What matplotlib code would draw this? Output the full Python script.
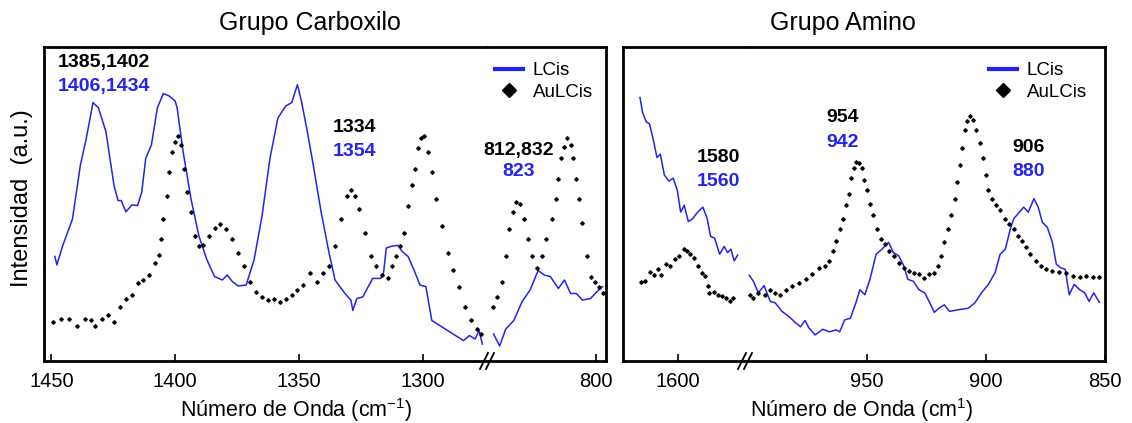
import matplotlib
matplotlib.use("Agg")
import matplotlib.pyplot as plt
import numpy as np
from matplotlib.lines import Line2D

plt.rcParams['font.family'] = ['Liberation Sans', 'DejaVu Sans']
plt.rcParams['mathtext.default'] = 'regular'

BLUE = '#2323f0'

# ---- Grupo Carboxilo: LCis (blue line), AuLCis (black dots) ----
carb_lcis_wn = [1448.6, 1447.8, 1445.5, 1441.5, 1438.3, 1435.9, 1433.2, 1431, 1428, 1424.7, 1423.1,
                1421.8, 1419.9, 1417.5, 1415.2, 1413.5, 1411.9, 1409.6, 1407.2, 1404.8, 1402.4, 1400,
                1399.2, 1396.8, 1393.6, 1390.4, 1387.2, 1384.1, 1380.9, 1379, 1376.9, 1374.5, 1371.3,
                1368.1, 1364.9, 1361.7, 1358.5, 1355.3, 1352.9, 1350.6, 1349, 1346.6, 1344.2, 1341,
                1337.8, 1335.4, 1331.4, 1329, 1328.2, 1326.6, 1324.2, 1320.2, 1317, 1315.8, 1314.7,
                1312.3, 1309.9, 1308.3, 1305.9, 1303.5, 1301.1, 1298.7, 1296.3, 1293.1, 1289.9,
                1286.7, 1283.5, 1281.1, 1278.8, 1277.2, 1275.9]
carb_lcis_int = [33.3, 30.6, 36.6, 45.2, 62.4, 71, 82.3, 80.6, 73.1, 55.9, 51.1,
                 51.1, 47.5, 49.7, 49.5, 53.8, 64.5, 68.8, 80.6, 85.2, 84.4, 82.8,
                 80.6, 66.7, 51.6, 39.8, 32.3, 26.9, 25.8, 27.4, 25.3, 23.9, 24.2,
                 32.3, 46.2, 64.5, 77.4, 81.2, 82.3, 88, 82.8, 73.1, 62.4, 47.3,
                 34.4, 25.8, 21.5, 19.4, 16.1, 19.9, 20.4, 26.3, 26.3, 28, 36,
                 36.6, 36.8, 34.9, 33.3, 29, 24.2, 23.7, 12.9, 11.3, 9.7,
                 8.1, 6.5, 8.1, 7, 9.7, 5.4]
carb_lcis_wn2 = [840.4, 838, 835.6, 832.4, 829.2, 826, 822.8, 820.4, 818, 814.8, 812.4, 810,
                 807.7, 805.3, 802.1, 799.7, 797.3]
carb_lcis_int2 = [8.6, 4.8, 10.2, 12.9, 18.8, 22.6, 28.8, 27.4, 26.9, 23.1, 25.8, 21.5,
                  21.5, 19.4, 19.9, 22, 23.7]

carb_au_wn = [1449.4, 1446.2, 1443, 1439.8, 1436.6, 1434.2, 1432.3, 1429.5, 1427.1, 1424.7, 1422.3,
              1419.9, 1417.5, 1415.2, 1412.8, 1410.4, 1408, 1406.4, 1405.6, 1404.8, 1403.5, 1402.4,
              1401.3, 1400, 1398.9, 1397.6, 1396.5, 1395.3, 1393.6, 1392, 1390.4, 1388.8, 1386.4,
              1384.1, 1381.7, 1379.3, 1376.9, 1374.5, 1372.1, 1369.7, 1367.3, 1364.9, 1362.5,
              1360.1, 1357.7, 1355.3, 1352.9, 1350.6, 1348.2, 1345.5, 1342.6, 1340.2, 1337.8,
              1335.4, 1333, 1330.6, 1329, 1327.4, 1325.8, 1323.4, 1321, 1318.7, 1316.3, 1313.9,
              1312.3, 1310.7, 1309.1, 1307.5, 1305.9, 1304.3, 1303, 1301.9, 1300.8, 1299.5,
              1297.9, 1296.3, 1294.7, 1292.3, 1289.9, 1287.6, 1285.2, 1282.8, 1280.4, 1278, 1276.4]
carb_au_int = [12.4, 13.4, 13.4, 11.3, 13.4, 12.9, 11.3, 13.4, 14.5, 12.4, 17.2,
               19.9, 21, 24.7, 25.8, 27.4, 31.2, 33.9, 38.7, 45.2, 52.7, 60.2,
               66.7, 69.9, 71.8, 68.8, 61.3, 53.8, 47.3, 39.8, 36.6, 36.8, 39.8,
               42.5, 43.5, 41.9, 38.7, 34.4, 30.1, 25.3, 22, 20.4, 19.4,
               19.9, 18.8, 19.9, 21, 22.6, 24.2, 28, 25.3, 28, 30.1,
               36.6, 45.2, 52.7, 54.3, 52.7, 48.4, 40.9, 33.3, 30.1, 27.4, 26.3,
               30.1, 33.3, 36.6, 40.9, 49.5, 55.9, 61.3, 67.7, 71, 71.5,
               66.7, 60.2, 51.6, 43, 34.4, 29, 23.7, 17.2, 12.9, 10.2, 8.6]
carb_au_wn2 = [840.7, 839.1, 837.2, 835.6, 834.3, 832.7, 831.6, 830, 828.4, 826.8, 825.2, 823.1,
               821.2, 819.6, 817.5, 815.9, 814.8, 813.6, 812.4, 811.3, 810, 808.9, 807.7, 806.5,
               805.3, 803.7, 802.1, 800.5, 798.9, 797.3]
carb_au_int2 = [17.2, 20.4, 25.3, 33.3, 41.9, 47.3, 50.5, 50, 45.2, 38.7, 33.3, 29.6,
                33.3, 38.7, 45.2, 51.6, 58.1, 64.5, 68.3, 71, 68.8, 64.5, 58.1, 51.6,
                44.1, 33.3, 26.9, 25.3, 23.7, 21.5]

# ---- Grupo Amino ----
amino_lcis_wn = [1615.9, 1614.8, 1613.3, 1611.9, 1610.2, 1608.8, 1607.4, 1605.7, 1603.8, 1602, 1600.3,
                 1598.9, 1597.4, 1595.7, 1593.9, 1591.8, 1589.6, 1587.8, 1586.4, 1584.7, 1582.6,
                 1580.7, 1579.3, 1577.9, 1576.5, 1575.1]
amino_lcis_int = [83.9, 79.1, 76.2, 75.5, 70, 64.8, 65.9, 59.2, 57.3, 58.2, 54.4,
                  47.4, 49.6, 44.4, 45.3, 47.4, 49, 45.3, 39.7, 39.1, 34,
                  36.5, 34.5, 35.6, 31.9, 33.7]
amino_au_wn = [1615.6, 1613.8, 1611.9, 1610.2, 1608.5, 1607.1, 1605.2, 1603.5, 1601.3, 1599.6, 1597.7,
               1596.3, 1594.9, 1593.2, 1591.5, 1590.1, 1588.7, 1587.6, 1586.9, 1585, 1583.3,
               1581.6, 1579.8, 1578.4, 1577]
amino_au_int = [25.1, 25.4, 28.3, 27.5, 29.4, 27.3, 30.8, 30.3, 32.4, 33.5, 35.8,
                35.1, 34, 32.9, 30.3, 28.1, 27, 23.8, 21.7, 21.9, 21.1,
                20.8, 20.1, 19, 20.1]

amino_lcis_wn2 = [999.2, 997.5, 995.4, 993, 990.4, 988.3, 985.5, 982.6, 979.8, 977.7, 975.8, 974.1,
                  971.6, 968.4, 965.6, 962.8, 961.3, 959.2, 956.8, 954.5, 952.8, 950.7, 948.6,
                  946, 943.6, 940.8, 938.7, 936.5, 934.4, 932.7, 930.4, 928, 925.6, 923.8, 921.6,
                  919.5, 917.4, 915.2, 911.7, 907.4, 904.6, 901.8, 898.9, 896.1, 894, 891.8,
                  889.7, 888.3, 885.9, 884.1, 882.2, 879.8, 878, 876.3, 874.2, 872.1, 870.4,
                  868.6, 866.7, 865, 862.9, 860.6, 858.5, 856.7, 854.7, 852.4]
amino_lcis_int2 = [27.3, 25.4, 21.7, 24, 19, 18.5, 15.8, 14.2, 12.2, 10.9, 12.9, 10.4,
                   8.3, 10.1, 9.3, 9.9, 9.3, 13.1, 13.6, 18.5, 22.7, 21.1, 26,
                   34, 35.6, 37.8, 34.5, 33.5, 30.3, 26, 25.4, 22.7, 21.7, 19, 15.5,
                   16.9, 17.9, 15.8, 16.3, 16.8, 18.5, 21.7, 24.4, 28.1, 34, 35.6,
                   42.1, 45.3, 47.4, 49, 47.4, 51.7, 49, 44.2, 42.6, 37.8, 30.8,
                   29.7, 29.2, 21.1, 24.4, 22.7, 21.7, 19, 21.7, 18.7]
amino_au_wn2 = [998.9, 997.5, 995.4, 992.6, 990.4, 988.3, 986.2, 984, 981.2, 978.4, 975.5, 972.7,
                969.9, 967.3, 965.6, 964.2, 962.8, 961.3, 959.9, 958.8, 957.4, 956.4, 955.4,
                954.3, 953.1, 952.1, 951.1, 950, 948.6, 947.2, 945.7, 944, 942.2, 940.4, 938.7,
                936.5, 934.4, 932.3, 930.1, 928, 925.9, 923.8, 921.6, 920.2, 918.8, 917.4, 916,
                914.5, 913.1, 912, 911, 910, 908.9, 907.7, 906.5, 905.3, 903.9, 902.5, 901.3,
                900.1, 898.9, 897.5, 895.8, 894, 891.8, 890.1, 888.3, 886.4, 884.8, 883.1,
                881.3, 879.1, 877, 874.9, 872.1, 869.2, 866.4, 863.5, 860.6, 857.8, 855, 852.4]
amino_au_int2 = [21.1, 20.1, 21.7, 21.1, 22.7, 21.7, 21.1, 22.7, 23.8, 24.9, 26, 27.6,
                 29.7, 30.3, 31.9, 35.1, 38.3, 42.1, 45.3, 49.6, 53.3, 58.2, 61.4,
                 63.5, 63, 61.4, 57.6, 54.4, 50.1, 46.4, 42.1, 38.8, 37.2, 35.1, 33.5,
                 31.3, 29.7, 28.6, 28.1, 27.6, 26.5, 27.6, 28.1, 30.3, 33.5, 37.8, 42.1,
                 46.4, 51.7, 57.1, 62.4, 67.8, 73.7, 76.4, 78, 76.9, 73.7, 69.4, 64.6,
                 59.2, 54.4, 51.7, 49.6, 48, 45.3, 43.6, 42.1, 39.9, 38.3, 36.2,
                 34, 31.9, 30.3, 29.4, 28.6, 28.3, 27.9, 27, 26.8, 27, 26.8, 26.8]

W, H = 1132, 423
fig = plt.figure(figsize=(W / 100, H / 100), dpi=100)


def px_axes(x0, x1, y0=47, y1=361):
    return fig.add_axes([x0 / W, (H - y1) / H, (x1 - x0) / W, (y1 - y0) / H])


def style(ax, xlim, ticks, left=True, right=True):
    ax.set_xlim(*xlim)
    ax.set_ylim(0, 100)
    ax.set_xticks(ticks)
    ax.set_yticks([])
    ax.tick_params(axis='x', direction='in', length=5, width=1.2, labelsize=14.5, pad=8)
    for s in ax.spines.values():
        s.set_linewidth(2)
    ax.spines['left'].set_visible(left)
    ax.spines['right'].set_visible(right)


def series(ax, wn, lc, wa, au):
    ax.plot(wn, lc, color=BLUE, lw=1.1)
    ax.plot(wa, au, ls='none', marker='D', ms=1.8, color='black')


# Grupo Carboxilo
c1 = px_axes(44, 487)
c2 = px_axes(487, 606)
series(c1, carb_lcis_wn, carb_lcis_int, carb_au_wn, carb_au_int)
series(c2, carb_lcis_wn2, carb_lcis_int2, carb_au_wn2, carb_au_int2)
style(c1, (1453, 1274), [1450, 1400, 1350, 1300], right=False)
style(c2, (843, 796), [800], left=False)

# Grupo Amino
a1 = px_axes(623, 745)
a2 = px_axes(745, 1105)
series(a1, amino_lcis_wn, amino_lcis_int, amino_au_wn, amino_au_int)
series(a2, amino_lcis_wn2, amino_lcis_int2, amino_au_wn2, amino_au_int2)
style(a1, (1623, 1572), [1600], right=False)
style(a2, (1001, 850), [950, 900, 850], left=False)

# axis break marks
for xb in (487, 745):
    for dx in (-3, 3):
        fig.add_artist(Line2D([(xb + dx - 4) / W, (xb + dx + 4) / W],
                              [(H - 369) / H, (H - 353) / H],
                              color='black', lw=1.3, transform=fig.transFigure))

# titles and labels
fig.text(310 / W, 1 - 23 / H, 'Grupo Carboxilo', ha='center', va='center', fontsize=18)
fig.text(843 / W, 1 - 23 / H, 'Grupo Amino', ha='center', va='center', fontsize=18)
fig.text(296 / W, 1 - 410 / H, 'Número de Onda (cm$^{-1}$)', ha='center', va='center', fontsize=15.5)
fig.text(862 / W, 1 - 410 / H, 'Número de Onda (cm$^{1}$)', ha='center', va='center', fontsize=15.5)
fig.text(22 / W, 1 - 198 / H, 'Intensidad  (a.u.)', rotation=90, ha='center', va='center', fontsize=17)

# peak annotations
notes = [
    (104, 62, '1385,1402', 'black'), (104, 87, '1406,1434', BLUE),
    (354, 127, '1334', 'black'), (354, 151, '1354', BLUE),
    (519, 150, '812,832', 'black'), (519, 172, '823', BLUE),
    (718, 158, '1580', 'black'), (718, 182, '1560', BLUE),
    (843, 117, '954', 'black'), (843, 142, '942', BLUE),
    (1029, 147, '906', 'black'), (1029, 172, '880', BLUE),
]
for x, y, t, c in notes:
    fig.text(x / W, 1 - y / H, t, ha='center', va='center', fontsize=14,
             fontweight='bold', color=c)

# legends
handles = [Line2D([], [], color=BLUE, lw=3),
           Line2D([], [], ls='none', marker='D', ms=7, color='black')]
for ax, xl in ((c2, 495), (a2, 989)):
    ax.legend(handles, ['LCis', 'AuLCis'], loc='upper left',
              bbox_to_anchor=(xl / W, 1 - 62 / H), bbox_transform=fig.transFigure,
              frameon=False, fontsize=13.5, borderpad=0, borderaxespad=0,
              handlelength=1.5, handletextpad=0.5, labelspacing=0.25)

fig.savefig('out.png', dpi=100)
